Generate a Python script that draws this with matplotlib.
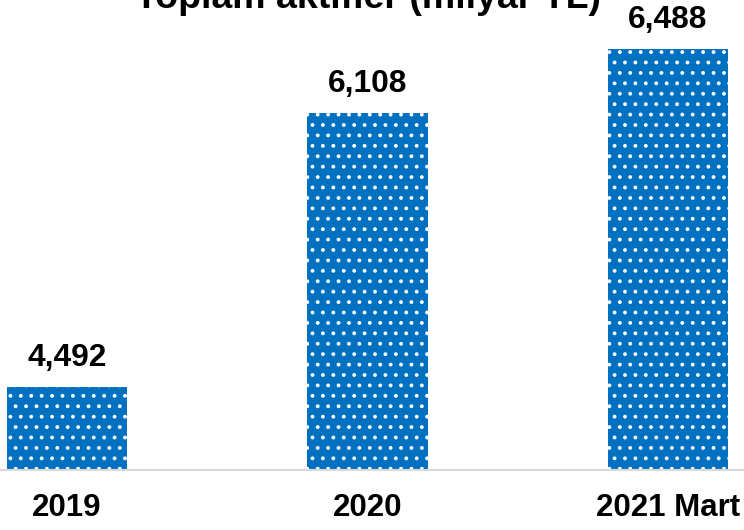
import matplotlib
matplotlib.use("Agg")
import matplotlib.pyplot as plt

# Toplam aktifler, milyar TL
categories = ["2019", "2020", "2021 Mart"]
values = [4492, 6108, 6488]
value_labels = ["4,492", "6,108", "6,488"]
title = "Toplam aktifler (milyar TL)"

plt.rcParams["font.family"] = ["Liberation Sans", "DejaVu Sans"]
plt.rcParams["hatch.color"] = "white"

# dpi 125 so the '..' hatch gets about the same dot spacing as the original
fig = plt.figure(figsize=(5.952, 4.24), dpi=125)
ax = fig.add_axes([0, 60 / 530, 1, 470 / 530])

x = list(range(len(categories)))
bars = ax.bar(x, values, width=0.4, color="#0070C0", edgecolor="white",
              linewidth=0, hatch="..")
ax.bar_label(bars, labels=value_labels, padding=8, fontsize=18.3,
             fontweight="bold")

ax.set_xlim(-0.223, 2.253)
ax.set_ylim(4000, 6776)

for s in ["top", "left", "right"]:
    ax.spines[s].set_visible(False)
ax.spines["bottom"].set_color("#D9D9D9")
ax.spines["bottom"].set_linewidth(1.2)
ax.set_yticks([])
ax.set_xticks(x)
ax.set_xticklabels(categories, fontsize=18, fontweight="bold")
ax.tick_params(axis="x", length=0, pad=13)

# title is partly above the top edge, as in the original
fig.text(0.494, 1 - 8 / 530, title, ha="center", va="baseline",
         fontsize=21.6, fontweight="bold")

fig.savefig("out.png", dpi=125)
plt.close(fig)
